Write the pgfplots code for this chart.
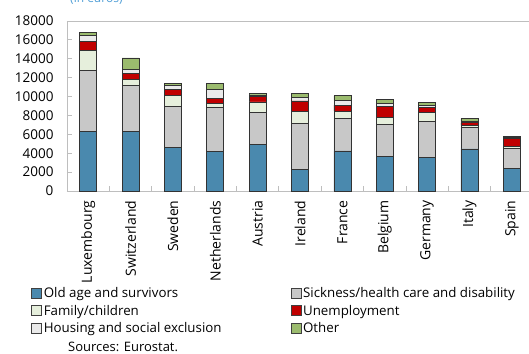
\documentclass[border=0pt]{standalone}
\usepackage{fontspec}
\setmainfont{Open Sans}
\usepackage{pgfplots}
\usepackage{pgfplotstable}
\pgfplotsset{compat=1.18}

\definecolor{oldage}{HTML}{4A89AE}
\definecolor{sickness}{HTML}{C8C8C8}
\definecolor{family}{HTML}{E6EFDC}
\definecolor{unemp}{HTML}{C00000}
\definecolor{housing}{HTML}{EAEAEA}
\definecolor{other}{HTML}{9BBB6E}
\definecolor{axisgrey}{HTML}{BEBEBE}
\definecolor{titleblue}{HTML}{4F9ED6}

% Social protection expenditure per head, by function (euros)
\pgfplotstableread{
x old  sick fam  unemp hous other
0 6270 6520 2050 960   670  320
1 6270 4890 670  600   460  1200
2 4640 4360 1130 640   430  180
3 4180 4680 430  530   960  640
4 4960 3370 1100 560   180  180
5 2270 4890 1240 1130  400  420
6 4250 3440 780  630   460  530
7 3680 3370 700  1240  290  460
8 3580 3750 960  530   210  360
9 4460 2280 210  280   110  350
10 2410 2100 220 860   120  110
}\spending

\begin{document}
\begin{tikzpicture}
\begin{axis}[
  scale only axis,
  width=466pt, height=170pt,
  xmin=-0.5, xmax=10.5,
  ymin=0, ymax=18000,
  ytick={0,2000,...,18000},
  scaled y ticks=false,
  /pgf/number format/1000 sep={},
  /pgf/number format/assume math mode=true,
  ybar stacked, bar width=17pt,
  tick align=inside, major tick length=5pt,
  axis line style={axisgrey, line width=0.8pt},
  tick style={axisgrey, line width=0.8pt},
  xtick={0.5,1.5,...,9.5},
  xticklabels={},
  extra x ticks={0,1,...,10},
  extra x tick labels={Luxembourg,Switzerland,Sweden,Netherlands,Austria,Ireland,France,Belgium,Germany,Italy,Spain},
  extra x tick style={tick style={draw=none},
    tick label style={rotate=90, anchor=east, font=\fontsize{14}{16}\selectfont, xshift=-6pt}},
  y tick label style={font=\fontsize{13.5}{15}\selectfont, xshift=-10pt},
  ytick pos=left, xtick pos=bottom,
  every axis plot/.append style={draw=black!80, line width=0.7pt},
  legend columns=2,
  legend cell align=left,
  legend image code/.code={\draw[#1, draw=black!75, line width=0.6pt] (0pt,-5pt) rectangle (10pt,5pt);},
  legend style={draw=none, fill=none, font=\fontsize{13.3}{15}\selectfont,
    at={(axis description cs:-0.0837,-0.542)}, anchor=north west,
    row sep=2pt,
    /tikz/every even column/.append style={column sep=67pt}},
]
\addplot[fill=oldage]   table[x=x, y=old]   {\spending};
\addplot[fill=sickness] table[x=x, y=sick]  {\spending};
\addplot[fill=family]   table[x=x, y=fam]   {\spending};
\addplot[fill=unemp]    table[x=x, y=unemp] {\spending};
\addplot[fill=housing]  table[x=x, y=hous]  {\spending};
\addplot[fill=other]    table[x=x, y=other] {\spending};
\legend{Old age and survivors, Sickness/health care and disability,
  Family/children, Unemployment, Housing and social exclusion, Other}
\end{axis}
\node[anchor=base west, text=titleblue, inner sep=0pt, font=\fontsize{12}{14}\selectfont] at (3pt,188pt) {(in euros)};
\node[anchor=base west, inner sep=0pt, font=\fontsize{13}{15}\selectfont] at (1pt,-160pt) {Sources: Eurostat.};
\pgfresetboundingbox
\path (-67pt,-162pt) rectangle (462pt,191pt);
\end{tikzpicture}
\end{document}
